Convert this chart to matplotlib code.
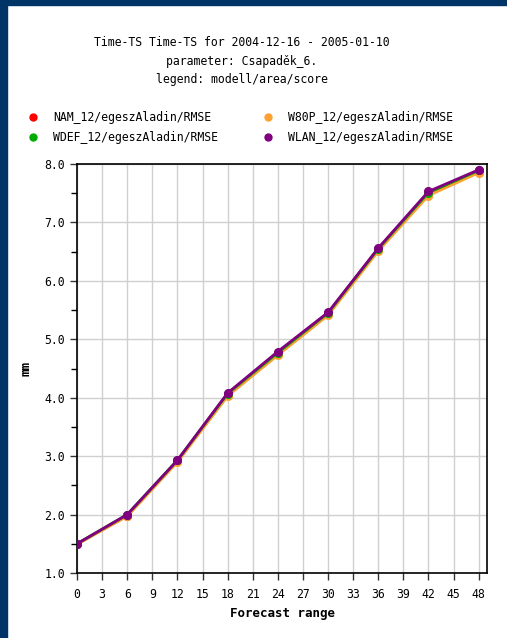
import matplotlib; matplotlib.use("Agg")
import matplotlib.pyplot as plt
from matplotlib.patches import Rectangle
from matplotlib.lines import Line2D

steps = [0, 6, 12, 18, 24, 30, 36, 42, 48]
nam = [1.50, 1.98, 2.91, 4.04, 4.74, 5.43, 6.53, 7.48, 7.87]
w80p = [1.49, 1.97, 2.90, 4.03, 4.73, 5.41, 6.51, 7.46, 7.85]
wdef = [1.50, 2.00, 2.93, 4.07, 4.77, 5.45, 6.55, 7.51, 7.89]
wlan = [1.50, 2.00, 2.93, 4.08, 4.79, 5.46, 6.56, 7.53, 7.90]
xticks = list(range(0, 49, 3))
yticks = [1.0, 2.0, 3.0, 4.0, 5.0, 6.0, 7.0, 8.0]
names = ["NAM_12/egeszAladin/RMSE", "W80P_12/egeszAladin/RMSE",
         "WDEF_12/egeszAladin/RMSE", "WLAN_12/egeszAladin/RMSE"]
colors = ["#ff0000", "#ffa030", "#00aa00", "#800080"]

plt.rcParams["font.family"] = ["DejaVu Sans Mono"]
W, H = 507, 638
fig = plt.figure(figsize=(W / 100, H / 100), dpi=100)
fig.patch.set_facecolor("white")
blue = "#003366"
fig.add_artist(Rectangle((0, 0), 7 / W, 1, transform=fig.transFigure, color=blue, zorder=0))
fig.add_artist(Rectangle((0, 1 - 5 / H), 1, 5 / H, transform=fig.transFigure, color=blue, zorder=0))

ax = fig.add_axes([77 / W, 1 - 573 / H, 410 / W, 409 / H])
for ys, c in zip([nam, w80p, wdef, wlan], colors):
    ax.plot(steps, ys, "-o", color=c, lw=2, ms=5.5, zorder=3)

ax.set_xlim(0, 49)
ax.set_ylim(1.0, 8.0)
ax.set_xticks(xticks)
ax.set_yticks(yticks)
ax.set_yticklabels([f"{v:.1f}" for v in yticks])
ax.set_yticks([1.5, 2.5, 3.5, 4.5, 5.5, 6.5, 7.5], minor=True)
ax.tick_params(axis="both", labelsize=8.3, length=5, width=1, color="#333333")
ax.tick_params(axis="y", which="minor", length=4, width=1)
ax.tick_params(axis="x", pad=6)
ax.grid(True, color="#d0d0d0", lw=1)
ax.set_axisbelow(True)
for s in ax.spines.values():
    s.set_linewidth(1.2)
ax.set_xlabel("Forecast range", fontsize=9, fontweight="bold", labelpad=4)
ax.set_ylabel("mm", fontsize=9, fontweight="bold", labelpad=9)

for i, line in enumerate(["Time-TS Time-TS for 2004-12-16 - 2005-01-10",
                          "parameter: Csapaděk_6.",
                          "legend: modell/area/score"]):
    fig.text(242 / W, 1 - (43 + 18.5 * i) / H, line, ha="center", va="center", fontsize=8.3)

pos = [(33, 117), (268, 117), (33, 137), (268, 137)]
for (px, py), n, c in zip(pos, names, colors):
    fig.add_artist(Line2D([px / W], [1 - py / H], marker="o", ms=5, color=c,
                          transform=fig.transFigure))
    fig.text((px + 20) / W, 1 - (py + 1) / H, n, ha="left", va="center", fontsize=8.3)

fig.savefig("out.png", dpi=100)
